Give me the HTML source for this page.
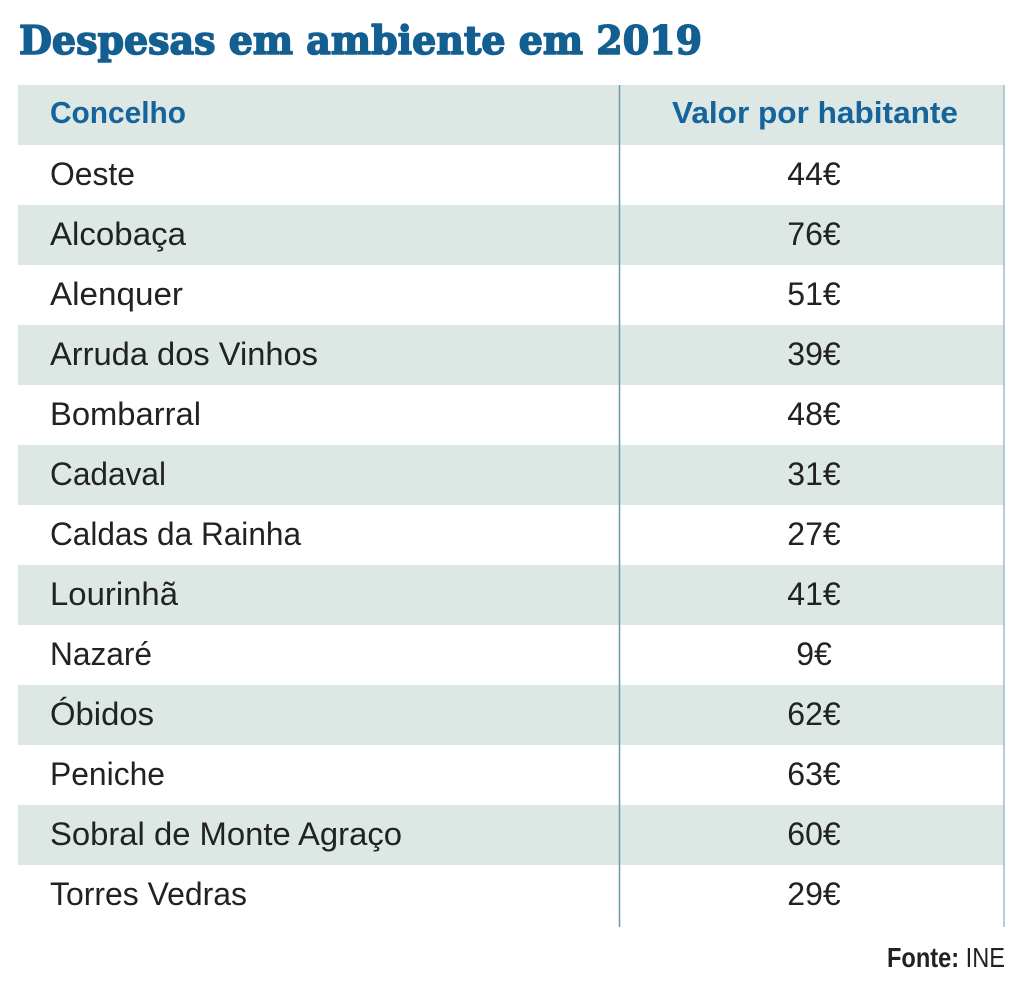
<!DOCTYPE html>
<html>
<head>
<meta charset="utf-8">
<style>
  html,body{margin:0;padding:0;background:#fff;}
  svg{display:block;}
</style>
</head>
<body>
<svg width="1024" height="984" viewBox="0 0 1024 984" xmlns="http://www.w3.org/2000/svg">
  <rect x="0" y="0" width="1024" height="984" fill="#ffffff"/>
  <!-- Title -->
  <text x="19" y="54" font-family="'DejaVu Serif', 'Liberation Serif', serif" font-weight="bold" font-size="39" fill="#135f91" stroke="#135f91" stroke-width="1.6" stroke-linejoin="round" textLength="683" lengthAdjust="spacingAndGlyphs">Despesas em ambiente em 2019</text>

  <!-- shaded bands -->
  <g fill="#dde8e5">
    <rect x="18" y="85" width="986" height="60"/>
    <rect x="18" y="205" width="986" height="60"/>
    <rect x="18" y="325" width="986" height="60"/>
    <rect x="18" y="445" width="986" height="60"/>
    <rect x="18" y="565" width="986" height="60"/>
    <rect x="18" y="685" width="986" height="60"/>
    <rect x="18" y="805" width="986" height="60"/>
  </g>

  <!-- vertical lines -->
  <line x1="619.5" y1="85" x2="619.5" y2="927" stroke="#6f98b0" stroke-width="1.5"/>
  <line x1="1004" y1="85" x2="1004" y2="927" stroke="#9dbccb" stroke-width="1.5"/>

  <!-- header -->
  <g font-family="'Liberation Sans', sans-serif" font-weight="bold" font-size="31" fill="#15649b">
    <text x="50" y="123" textLength="136" lengthAdjust="spacingAndGlyphs">Concelho</text>
    <text x="672" y="123" textLength="286" lengthAdjust="spacingAndGlyphs">Valor por habitante</text>
  </g>

  <!-- rows -->
  <g font-family="'Liberation Sans', sans-serif" font-size="32" fill="#222222">
    <text x="50" y="185" textLength="85" lengthAdjust="spacingAndGlyphs">Oeste</text>
    <text x="50" y="245" textLength="136" lengthAdjust="spacingAndGlyphs">Alcobaça</text>
    <text x="50" y="305" textLength="133" lengthAdjust="spacingAndGlyphs">Alenquer</text>
    <text x="50" y="365" textLength="268" lengthAdjust="spacingAndGlyphs">Arruda dos Vinhos</text>
    <text x="50" y="425" textLength="151" lengthAdjust="spacingAndGlyphs">Bombarral</text>
    <text x="50" y="485" textLength="116" lengthAdjust="spacingAndGlyphs">Cadaval</text>
    <text x="50" y="545" textLength="251" lengthAdjust="spacingAndGlyphs">Caldas da Rainha</text>
    <text x="50" y="605" textLength="128" lengthAdjust="spacingAndGlyphs">Lourinhã</text>
    <text x="50" y="665" textLength="102" lengthAdjust="spacingAndGlyphs">Nazaré</text>
    <text x="50" y="725" textLength="104" lengthAdjust="spacingAndGlyphs">Óbidos</text>
    <text x="50" y="785" textLength="115" lengthAdjust="spacingAndGlyphs">Peniche</text>
    <text x="50" y="845" textLength="352" lengthAdjust="spacingAndGlyphs">Sobral de Monte Agraço</text>
    <text x="50" y="905" textLength="197" lengthAdjust="spacingAndGlyphs">Torres Vedras</text>
  </g>
  <g font-family="'Liberation Sans', sans-serif" font-size="32" fill="#222222" text-anchor="middle">
    <text x="814" y="185">44€</text>
    <text x="814" y="245">76€</text>
    <text x="814" y="305">51€</text>
    <text x="814" y="365">39€</text>
    <text x="814" y="425">48€</text>
    <text x="814" y="485">31€</text>
    <text x="814" y="545">27€</text>
    <text x="814" y="605">41€</text>
    <text x="814" y="665">9€</text>
    <text x="814" y="725">62€</text>
    <text x="814" y="785">63€</text>
    <text x="814" y="845">60€</text>
    <text x="814" y="905">29€</text>
  </g>

  <!-- source -->
  <text x="887" y="967" font-family="'Liberation Sans', sans-serif" font-size="28" fill="#222222" textLength="118" lengthAdjust="spacingAndGlyphs"><tspan font-weight="bold">Fonte:</tspan> INE</text>
</svg>
</body>
</html>
